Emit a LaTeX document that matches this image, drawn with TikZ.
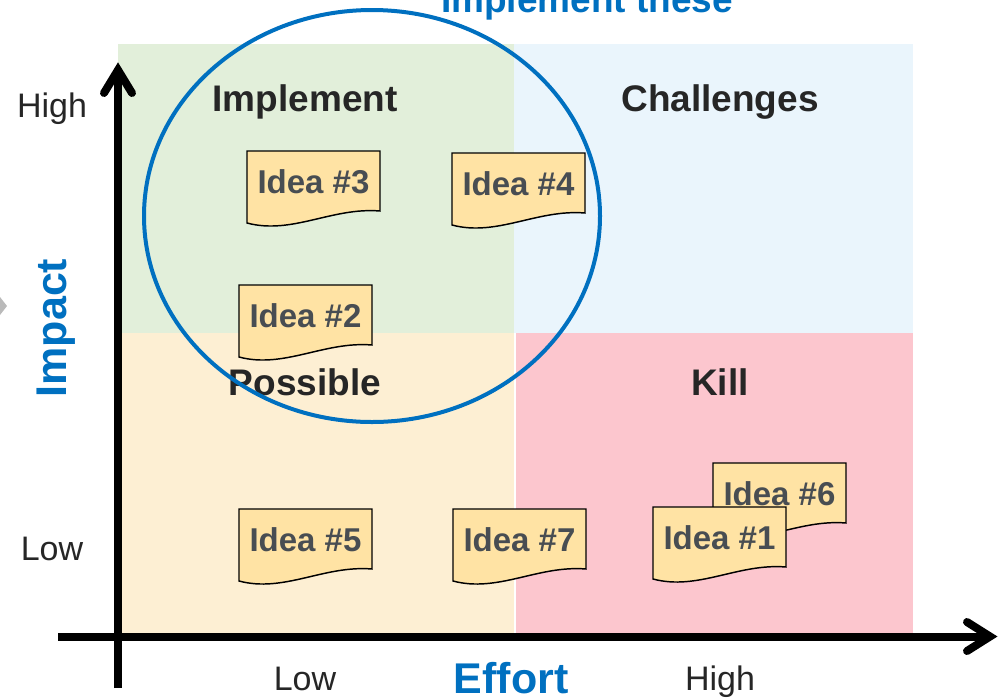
\documentclass[tikz,border=0pt]{standalone}
\usepackage{fontspec}
\setmainfont{Liberation Sans}
\definecolor{qgreen}{HTML}{E2EFDA}
\definecolor{qblue}{HTML}{EAF5FC}
\definecolor{qyellow}{HTML}{FDEFD3}
\definecolor{qpink}{HTML}{FCC6CE}
\definecolor{notefill}{RGB}{255,227,164}
\definecolor{ideagray}{RGB}{72,77,82}
\definecolor{labdark}{HTML}{262626}
\definecolor{mblue}{HTML}{0070C0}
\tikzset{
  axisline/.style={line width=6pt, black},
  axistip/.style={line width=6pt, black, line cap=round, line join=miter},
  notebox/.style={draw=black, line width=1.1pt, fill=notefill},
  ideatext/.style={anchor=base, inner sep=0pt, text=ideagray, font=\bfseries\fontsize{24.75}{28}\selectfont},
  quadlab/.style={anchor=base, inner sep=0pt, text=labdark, font=\bfseries\fontsize{27.75}{32}\selectfont},
  ticklab/.style={anchor=base, inner sep=0pt, text=labdark, font=\fontsize{25.5}{30}\selectfont},
  bluelab/.style={anchor=base, inner sep=0pt, text=mblue, font=\bfseries\fontsize{32.25}{38}\selectfont},
}
\newcommand\ideanote[4]{%
  \draw[notebox] ({#2},{#3}) -- ({#2+133},{#3}) -- ({#2+133},{#3+60})
    .. controls ({#2+85},{#3+56}) and ({#2+45},{#3+84}) .. ({#2},{#3+72}) -- cycle;
  \node[ideatext] (#1) at ({#2+66.5},{#3+42}) {#4};
}
\begin{document}
\begin{tikzpicture}[x=0.75pt,y=-0.75pt]
\useasboundingbox (0,0) rectangle (998,697);
% quadrants
\fill[qgreen] (118,44) rectangle (514,333);
\fill[qblue] (514,44) rectangle (913,333);
\fill[qyellow] (118,333) rectangle (514,633);
\fill[qpink] (516,333) rectangle (913,633);
% gray chevron at left edge
\fill[black!27] (0,297) -- (7,306) -- (0,315) -- cycle;
% axes
\coordinate (yb) at (118,688);
\coordinate (yt) at (118,70);
\coordinate (xl) at (58,636.5);
\coordinate (xr) at (990,636.5);
\draw[axisline] (yb) -- (yt);
\draw[axistip] (104,93) -- (yt) -- (132,93);
\draw[axisline] (xl) -- (xr);
\draw[axistip] (967,622) -- (xr) -- (967,651);
% quadrant labels
\node[quadlab] (qimp) at (305,111) {Implement};
\node[quadlab] (qcha) at (720,111) {Challenges};
\node[quadlab] (qpos) at (305,395) {Possible};
\node[quadlab] (qkil) at (720,395) {Kill};
% idea notes
\ideanote{i3}{247}{151}{Idea \#3}
\ideanote{i4}{452}{153}{Idea \#4}
\ideanote{i2}{239}{285}{Idea \#2}
\ideanote{i5}{239}{509}{Idea \#5}
\ideanote{i7}{453}{509}{Idea \#7}
\ideanote{i6}{713}{463}{Idea \#6}
\ideanote{i1}{653}{507}{Idea \#1}
% circle
\draw[mblue, line width=3pt] (372,216) ellipse [x radius=228, y radius=206];
\node[anchor=base, inner sep=0pt, text=mblue, font=\bfseries\fontsize{27.75}{32}\selectfont] (top) at (587,12) {Implement these};
% axis labels
\node[ticklab] (hi) at (52,117) {High};
\node[ticklab] (lo) at (52,560) {Low};
\node[ticklab] (elo) at (305,690) {Low};
\node[ticklab] (ehi) at (720,690) {High};
\node[bluelab] (eff) at (511,693) {Effort};
\node[bluelab, rotate=90] (imp) at (66,328) {Impact};
\end{tikzpicture}
\end{document}
